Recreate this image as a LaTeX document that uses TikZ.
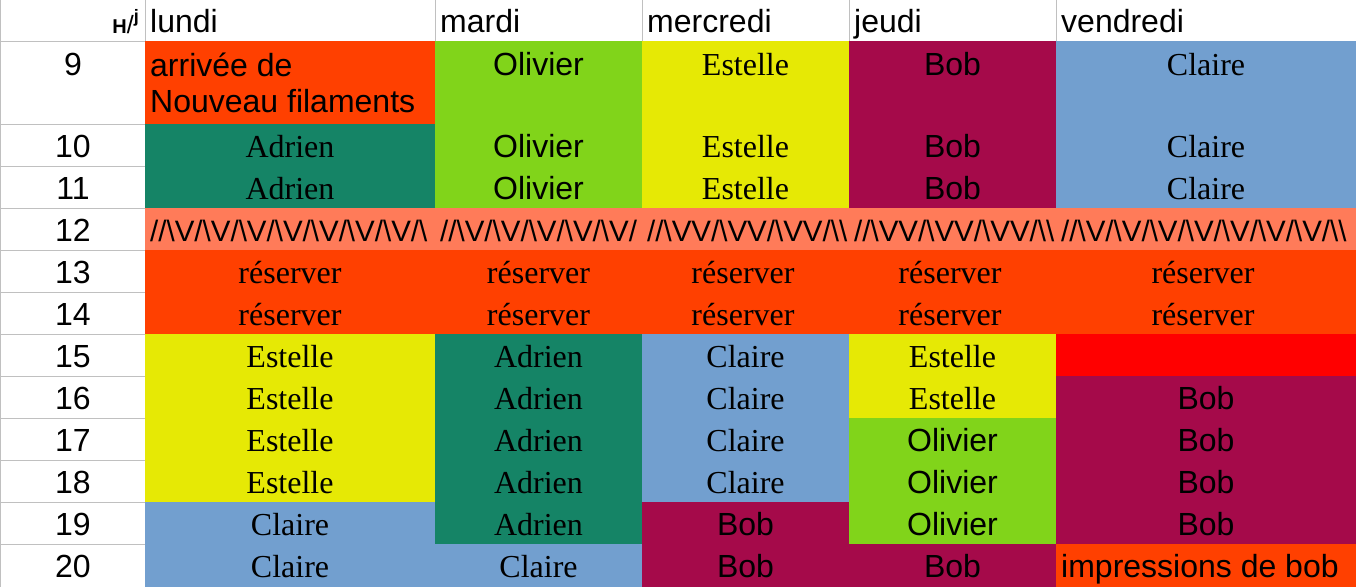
\documentclass[tikz,border=0pt]{standalone}
\usepackage{fontspec}
\setmainfont{Liberation Serif}
\setsansfont{Liberation Sans}
\definecolor{cOrange}{HTML}{FF4000}
\definecolor{cGreen}{HTML}{81D41A}
\definecolor{cYellow}{HTML}{E6E905}
\definecolor{cBob}{HTML}{A50A4A}
\definecolor{cBlue}{HTML}{729FCF}
\definecolor{cTeal}{HTML}{158466}
\definecolor{cSalmon}{HTML}{FF7B59}
\definecolor{cRed}{HTML}{FF0000}
\definecolor{cGrid}{HTML}{C0C0C0}
\newcommand\BSL{\textbackslash}
\tikzset{
  gridline/.style={draw=cGrid, line width=1pt},
  sanstxt/.style={font=\sffamily\fontsize{32}{36}\selectfont, inner sep=0pt, anchor=base},
  seriftxt/.style={font=\rmfamily\fontsize{32}{36}\selectfont, inner sep=0pt, anchor=base},
  slashtxt/.style={font=\sffamily\fontsize{29.5}{32}\selectfont, inner sep=0pt, anchor=base west},
  headtxt/.style={font=\sffamily\fontsize{32}{36}\selectfont, inner sep=0pt, anchor=base west},
}
\begin{document}
\begin{tikzpicture}[x=1pt,y=-1pt]
\useasboundingbox (0,0) rectangle (1356,587);
\fill[white] (0,0) rectangle (1356,587);
% grid
\draw[gridline] (0.5,0) -- (0.5,587);
\draw[gridline] (145,0) -- (145,587);
\draw[gridline] (0,41) -- (1356,41);
\foreach \x in {435,642,849,1056} \draw[gridline] (\x,0) -- (\x,41);
\foreach \y in {124,166,208,250,292,334,376,418,460,502,544} \draw[gridline] (0,\y) -- (145,\y);
% lundi
\fill[cOrange] (145,41) rectangle (435,124);
\fill[cTeal] (145,124) rectangle (435,208);
\fill[cYellow] (145,334) rectangle (435,502);
\fill[cBlue] (145,502) rectangle (435,587);
% mardi
\fill[cGreen] (435,41) rectangle (642,208);
\fill[cTeal] (435,334) rectangle (642,544);
\fill[cBlue] (435,544) rectangle (642,587);
% mercredi
\fill[cYellow] (642,41) rectangle (849,208);
\fill[cBlue] (642,334) rectangle (849,502);
\fill[cBob] (642,502) rectangle (849,587);
% jeudi
\fill[cBob] (849,41) rectangle (1056,208);
\fill[cYellow] (849,334) rectangle (1056,418);
\fill[cGreen] (849,418) rectangle (1056,544);
\fill[cBob] (849,544) rectangle (1056,587);
% vendredi
\fill[cBlue] (1056,41) rectangle (1356,208);
\fill[cRed] (1056,334) rectangle (1356,376);
\fill[cBob] (1056,376) rectangle (1356,544);
\fill[cOrange] (1056,544) rectangle (1356,587);
% rows 12-14
\fill[cSalmon] (145,208) rectangle (1356,250);
\fill[cOrange] (145,250) rectangle (1356,334);
% header
\node[inner sep=0pt, anchor=base east, font=\sffamily] (hj) at (139,33)
  {{\fontsize{20}{20}\selectfont\bfseries H}{\fontsize{25}{25}\selectfont /}\raisebox{11pt}{\fontsize{18}{18}\selectfont\bfseries j}};
\node[headtxt] (hlun) at (150,32) {lundi};
\node[headtxt] (hmar) at (440,32) {mardi};
\node[headtxt] (hmer) at (647,32) {mercredi};
\node[headtxt] (hjeu) at (854,32) {jeudi};
\node[headtxt] (hven) at (1061,32) {vendredi};
% hours
\node[sanstxt] (h9) at (73,75) {9};
\foreach \h/\b in {10/157,11/199,12/241,13/283,14/325,15/367,16/409,17/451,18/493,19/535,20/577}
  \node[sanstxt] (h\h) at (73,\b) {\h};
% row 9
\node[headtxt] (lun9a) at (150,76) {arrivée de};
\node[headtxt] (lun9b) at (150,112) {Nouveau filaments};
\node[sanstxt] (mar9) at (538.5,75) {Olivier};
\node[seriftxt] (mer9) at (745.5,75) {Estelle};
\node[sanstxt] (jeu9) at (952.5,75) {Bob};
\node[seriftxt] (ven9) at (1206,75) {Claire};
% rows 10-11
\foreach \r/\b in {10/157,11/199}{
  \node[seriftxt] (lun\r) at (290,\b) {Adrien};
  \node[sanstxt] (mar\r) at (538.5,\b) {Olivier};
  \node[seriftxt] (mer\r) at (745.5,\b) {Estelle};
  \node[sanstxt] (jeu\r) at (952.5,\b) {Bob};
  \node[seriftxt] (ven\r) at (1206,\b) {Claire};
}
% row 12
\node[slashtxt] (lun12) at (150,241) {//\BSL V/\BSL V/\BSL V/\BSL V/\BSL V/\BSL V/\BSL V/\BSL};
\node[slashtxt] (mar12) at (440,241) {//\BSL V/\BSL V/\BSL V/\BSL V/\BSL V/};
\node[slashtxt] (mer12) at (647,241) {//\BSL VV/\BSL VV/\BSL VV/\BSL\BSL};
\node[slashtxt] (jeu12) at (854,241) {//\BSL VV/\BSL VV/\BSL VV/\BSL\BSL};
\node[slashtxt] (ven12) at (1061,241) {//\BSL V/\BSL V/\BSL V/\BSL V/\BSL V/\BSL V/\BSL V/\BSL\BSL};
% rows 13-14
\foreach \r/\b in {13/283,14/325}{
  \node[seriftxt] (lun\r) at (290,\b) {réserver};
  \node[seriftxt] (mar\r) at (538.5,\b) {réserver};
  \node[seriftxt] (mer\r) at (743,\b) {réserver};
  \node[seriftxt] (jeu\r) at (950,\b) {réserver};
  \node[seriftxt] (ven\r) at (1203,\b) {réserver};
}
% rows 15-20
\foreach \r/\b in {15/367,16/409,17/451,18/493}
  \node[seriftxt] (lun\r) at (290,\b) {Estelle};
\foreach \r/\b in {19/535,20/577}
  \node[seriftxt] (lun\r) at (290,\b) {Claire};
\foreach \r/\b in {15/367,16/409,17/451,18/493,19/535}
  \node[seriftxt] (mar\r) at (538.5,\b) {Adrien};
\node[seriftxt] (mar20) at (538.5,577) {Claire};
\foreach \r/\b in {15/367,16/409,17/451,18/493}
  \node[seriftxt] (mer\r) at (745.5,\b) {Claire};
\foreach \r/\b in {19/535,20/577}
  \node[sanstxt] (mer\r) at (745.5,\b) {Bob};
\foreach \r/\b in {15/367,16/409}
  \node[seriftxt] (jeu\r) at (952.5,\b) {Estelle};
\foreach \r/\b in {17/451,18/493,19/535}
  \node[sanstxt] (jeu\r) at (952.5,\b) {Olivier};
\node[sanstxt] (jeu20) at (952.5,577) {Bob};
\foreach \r/\b in {16/409,17/451,18/493,19/535}
  \node[sanstxt] (ven\r) at (1206,\b) {Bob};
\node[headtxt] (ven20) at (1061,577) {impressions de bob};
\end{tikzpicture}
\end{document}
